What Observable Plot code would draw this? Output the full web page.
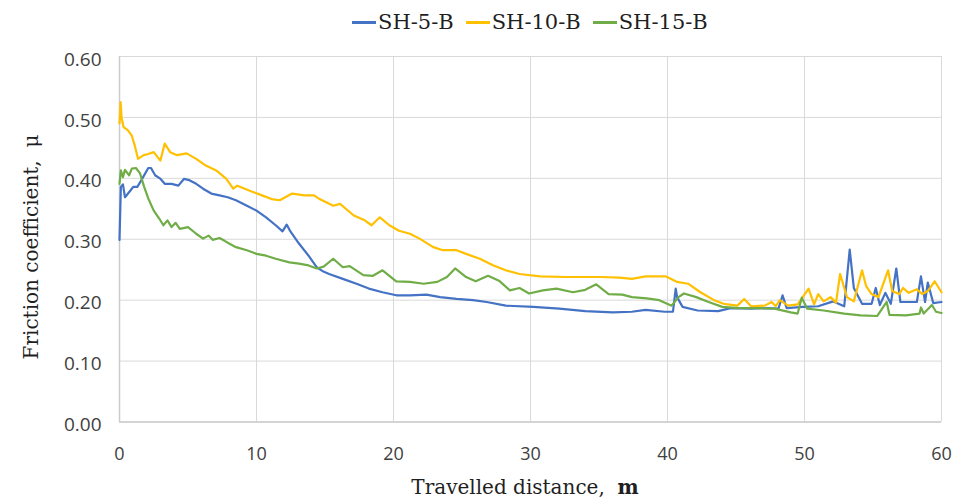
<!DOCTYPE html>
<html>
<head>
<meta charset="utf-8">
<script src="https://cdn.jsdelivr.net/npm/d3@7"></script>
<script src="https://cdn.jsdelivr.net/npm/@observablehq/plot@0.6"></script>
<style>
  html, body { margin: 0; padding: 0; background: #fff; }
  #wrap { width: 954px; height: 500px; position: relative; overflow: hidden; }
  #legend { height: 44px; display: flex; align-items: center; padding-left: 352px;
            font-family: "DejaVu Serif", serif; font-size: 21px; color: #1f1f1f; }
  .item { display: flex; align-items: center; margin-right: 12px; }
  .sw { width: 24px; height: 3px; margin-right: 2px; }
  svg { display: block; }
</style>
</head>
<body>
<div id="wrap">
  <div id="legend"></div>
  <div id="chart"></div>
</div>
<script>
// ---- data ----
const seriesNames = ["SH-5-B", "SH-10-B", "SH-15-B"];
const seriesColors = ["#4472C4", "#FFC000", "#70AD47"];
const xTicks = [0, 10, 20, 30, 40, 50, 60];
const yTicks = [0, 0.1, 0.2, 0.3, 0.4, 0.5, 0.6];

const sh5Dist = [0, 0.1, 0.25, 0.4, 0.8, 1.0, 1.3, 1.6, 2.1, 2.3, 2.6, 3.0, 3.3, 3.8, 4.3, 4.7, 5.1, 5.6, 6.1, 6.7, 7.3, 7.9, 8.5, 9.3, 10.0, 10.7, 11.4, 11.9, 12.2, 12.5, 13.1, 13.8, 14.4, 14.8, 15.3, 16.3, 17.3, 18.2, 19.2, 20.2, 21.2, 22.4, 23.4, 24.6, 25.8, 26.8, 28.2, 30.2, 32.1, 34.0, 36.0, 37.4, 38.4, 39.8, 40.4, 40.6, 40.7, 41.1, 42.2, 43.7, 44.6, 46.1, 47.3, 48.1, 48.4, 48.7, 49.9, 51.0, 52.1, 52.9, 53.3, 53.6, 54.2, 54.9, 55.2, 55.5, 55.9, 56.3, 56.7, 57.0, 57.6, 58.2, 58.5, 58.8, 59.0, 59.4, 60];
const sh5Mu = [0.299, 0.386, 0.390, 0.369, 0.380, 0.386, 0.386, 0.397, 0.417, 0.417, 0.405, 0.399, 0.391, 0.391, 0.388, 0.399, 0.397, 0.391, 0.383, 0.375, 0.372, 0.369, 0.364, 0.355, 0.347, 0.336, 0.323, 0.313, 0.324, 0.312, 0.293, 0.273, 0.254, 0.248, 0.243, 0.235, 0.227, 0.219, 0.213, 0.208, 0.208, 0.209, 0.205, 0.202, 0.200, 0.197, 0.191, 0.189, 0.186, 0.182, 0.180, 0.181, 0.184, 0.181, 0.181, 0.219, 0.205, 0.189, 0.183, 0.182, 0.187, 0.186, 0.187, 0.186, 0.208, 0.187, 0.189, 0.190, 0.198, 0.190, 0.283, 0.220, 0.194, 0.194, 0.220, 0.192, 0.212, 0.194, 0.252, 0.197, 0.197, 0.197, 0.239, 0.197, 0.229, 0.195, 0.197];

const sh10Dist = [0, 0.08, 0.15, 0.3, 0.6, 0.9, 1.1, 1.35, 1.77, 2.1, 2.5, 2.98, 3.3, 3.7, 4.2, 4.9, 5.6, 6.3, 7.06, 7.8, 8.3, 8.6, 9.46, 10.4, 11.1, 11.7, 12.6, 13.5, 14.2, 14.6, 15.6, 16.1, 17.1, 17.9, 18.4, 19.0, 19.7, 20.4, 21.2, 21.9, 22.9, 23.6, 24.6, 25.3, 26.3, 27.3, 28.2, 29.2, 30.7, 32.6, 35.1, 36.5, 37.4, 38.4, 39.9, 40.7, 41.5, 42.4, 43.4, 44.1, 45.1, 45.6, 46.1, 47.1, 47.6, 47.9, 48.2, 48.8, 49.5, 50.3, 50.7, 51.0, 51.4, 51.9, 52.3, 52.6, 53.1, 53.6, 54.2, 54.5, 54.9, 55.4, 56.1, 56.4, 56.9, 57.2, 57.6, 58.2, 58.6, 59.0, 59.5, 60];
const sh10Mu = [0.490, 0.525, 0.500, 0.484, 0.479, 0.470, 0.455, 0.432, 0.438, 0.440, 0.443, 0.429, 0.457, 0.443, 0.438, 0.441, 0.432, 0.421, 0.413, 0.399, 0.383, 0.388, 0.380, 0.372, 0.366, 0.364, 0.375, 0.372, 0.372, 0.366, 0.355, 0.358, 0.339, 0.331, 0.323, 0.336, 0.323, 0.314, 0.309, 0.301, 0.287, 0.282, 0.282, 0.276, 0.268, 0.257, 0.249, 0.243, 0.239, 0.238, 0.238, 0.237, 0.235, 0.239, 0.239, 0.230, 0.227, 0.213, 0.200, 0.194, 0.191, 0.202, 0.190, 0.191, 0.197, 0.190, 0.200, 0.191, 0.193, 0.219, 0.193, 0.210, 0.198, 0.205, 0.196, 0.243, 0.205, 0.198, 0.249, 0.223, 0.210, 0.205, 0.249, 0.215, 0.210, 0.220, 0.212, 0.218, 0.210, 0.215, 0.231, 0.213];

const sh15Dist = [0, 0.1, 0.25, 0.4, 0.7, 0.9, 1.2, 1.5, 1.8, 2.1, 2.5, 2.9, 3.2, 3.5, 3.8, 4.1, 4.4, 5.0, 5.6, 6.1, 6.5, 6.8, 7.3, 7.7, 8.0, 8.5, 9.3, 10.0, 10.7, 11.4, 12.4, 13.1, 13.8, 14.4, 14.9, 15.6, 16.3, 16.8, 17.8, 18.5, 19.2, 20.2, 21.2, 22.2, 23.2, 23.9, 24.5, 25.3, 26.0, 26.9, 27.7, 28.5, 29.2, 29.9, 30.9, 31.9, 33.1, 34.0, 34.8, 35.7, 36.7, 37.4, 38.5, 39.4, 40.3, 40.8, 41.2, 42.1, 43.0, 44.0, 45.2, 46.6, 47.8, 49.0, 49.5, 49.8, 50.2, 51.4, 52.9, 54.1, 55.3, 56.0, 56.2, 57.4, 58.4, 58.5, 58.7, 59.3, 59.6, 60];
const sh15Mu = [0.391, 0.413, 0.402, 0.414, 0.405, 0.416, 0.417, 0.408, 0.386, 0.367, 0.347, 0.334, 0.323, 0.331, 0.320, 0.327, 0.317, 0.320, 0.309, 0.301, 0.306, 0.299, 0.302, 0.297, 0.293, 0.287, 0.282, 0.276, 0.273, 0.268, 0.262, 0.260, 0.257, 0.252, 0.255, 0.268, 0.254, 0.256, 0.241, 0.240, 0.249, 0.231, 0.230, 0.227, 0.230, 0.238, 0.252, 0.238, 0.231, 0.240, 0.232, 0.216, 0.220, 0.211, 0.216, 0.219, 0.213, 0.217, 0.226, 0.210, 0.209, 0.205, 0.203, 0.200, 0.191, 0.205, 0.211, 0.205, 0.197, 0.189, 0.187, 0.187, 0.186, 0.180, 0.178, 0.204, 0.186, 0.183, 0.178, 0.175, 0.174, 0.197, 0.176, 0.175, 0.178, 0.188, 0.178, 0.192, 0.181, 0.179];

// ---- build table ----
const dists = [sh5Dist, sh10Dist, sh15Dist];
const mus = [sh5Mu, sh10Mu, sh15Mu];
const rows = [];
seriesNames.forEach((name, i) => {
  dists[i].forEach((d, j) => rows.push({series: name, d, mu: mus[i][j]}));
});

// ---- legend ----
const legend = document.getElementById("legend");
seriesNames.forEach((name, i) => {
  const it = document.createElement("div");
  it.className = "item";
  const sw = document.createElement("div");
  sw.className = "sw";
  sw.style.background = seriesColors[i];
  const tx = document.createElement("span");
  tx.textContent = name;
  it.appendChild(sw); it.appendChild(tx);
  legend.appendChild(it);
});

// ---- chart ----
const gridColor = "#d9d9d9";
const chart = Plot.plot({
  width: 954,
  height: 456,
  marginTop: 12,
  marginBottom: 78.5,
  marginLeft: 119,
  marginRight: 13,
  style: {fontFamily: "'Open Sans', sans-serif", background: "#fff", color: "#404040"},
  x: {domain: [0, 60], label: null},
  y: {domain: [0, 0.6], label: null},
  color: {domain: seriesNames, range: seriesColors},
  marks: [
    Plot.gridX(xTicks, {stroke: gridColor, strokeOpacity: 1, strokeWidth: 1}),
    Plot.gridY(yTicks, {stroke: gridColor, strokeOpacity: 1, strokeWidth: 1}),
    Plot.ruleX([0], {stroke: "#cccccc", strokeWidth: 1.5}),
    Plot.ruleY([0], {stroke: "#cccccc", strokeWidth: 1.5}),
    Plot.axisX(xTicks, {tickSize: 0, tickPadding: 25, fontSize: 18, fill: "#404040", label: null}),
    Plot.axisY(yTicks, {tickSize: 0, tickPadding: 18, fontSize: 19, fill: "#404040", dy: 3,
                        tickFormat: d3.format(".2f"), label: null}),
    Plot.line(rows, {x: "d", y: "mu", stroke: "series", z: "series",
                     strokeWidth: 2.2, strokeLinejoin: "round", strokeLinecap: "round"})
  ]
});
document.getElementById("chart").appendChild(chart);

// ---- axis titles ----
const svg = d3.select(chart);
const xt = svg.append("text")
  .attr("x", 525).attr("y", 450)
  .attr("text-anchor", "middle")
  .attr("fill", "#1f1f1f")
  .style("font-family", "'DejaVu Serif', serif")
  .style("font-size", "20px");
xt.append("tspan").text("Travelled distance,\u00a0\u00a0");
xt.append("tspan").attr("font-weight", "bold").text("m");

const yt = svg.append("text")
  .attr("transform", "translate(38,203) rotate(-90)")
  .attr("text-anchor", "middle")
  .attr("fill", "#1f1f1f")
  .style("font-family", "'DejaVu Serif', serif")
  .style("font-size", "20px");
yt.append("tspan").text("Friction coefficient,\u00a0\u00a0μ");
</script>
</body>
</html>
